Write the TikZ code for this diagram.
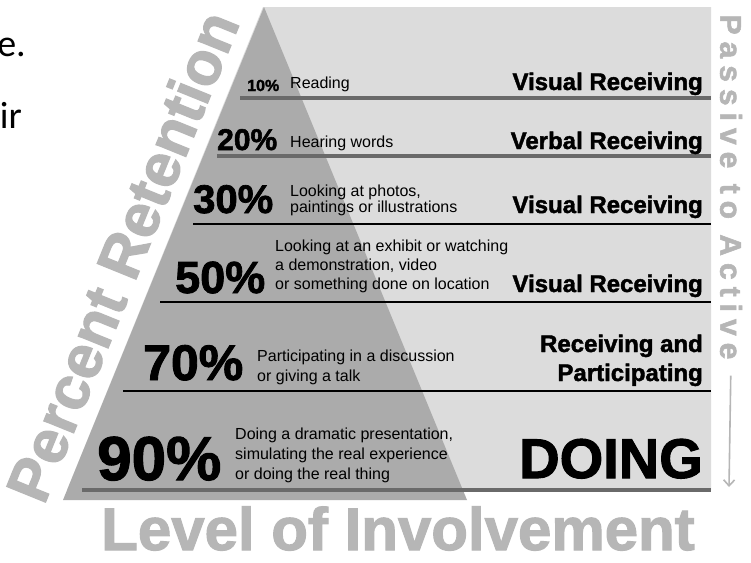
\documentclass[tikz,border=0pt]{standalone}
\usepackage{fontspec}
\setmainfont{Liberation Sans}
\newfontfamily\heavy{Liberation Sans}[BoldFeatures={FakeBold=1.8}]
\newfontfamily\slidefont{Carlito}
\usetikzlibrary{arrows.meta}
\newcommand\setfs[2]{\fontsize{#1}{#2}\selectfont}
\newcommand\tr{\kern7pt}
\definecolor{paper}{HTML}{DCDCDC}
\definecolor{pyr}{HTML}{ABABAB}
\definecolor{ghost}{HTML}{B6B6B6}
\definecolor{rulegrey}{HTML}{6A6A6A}
\begin{document}
\begin{tikzpicture}[x=1pt,y=-1pt,
  num/.style={anchor=base west, inner sep=0pt},
  desc/.style={anchor=west, align=left, inner sep=0pt},
  kind/.style={anchor=base east, inner sep=0pt, font=\heavy\bfseries\setfs{24}{28}},
  ghosttext/.style={inner sep=0pt, text=ghost, font=\heavy\bfseries\setfs{60}{60}},
  greyrule/.style={draw=rulegrey, line width=3.5pt},
  blackrule/.style={draw=black, line width=1.8pt}]

\path[use as bounding box] (0,0) rectangle (751,562);
\fill[white] (0,0) rectangle (751,562);

% fragments of the slide text at the left edge
\node[anchor=base east, inner sep=0pt, font=\slidefont\setfs{38}{40}] (frag1) at (26,56) {e.};
\node[anchor=base east, inner sep=0pt, font=\slidefont\setfs{38}{40}] (frag2) at (22,128) {ir};

% light field and the darker pyramid
\fill[paper] (263,7) -- (711,7) -- (711,490) -- (67,490) -- cycle;
\fill[pyr] (264,7) -- (467,500) -- (63,500) -- cycle;

% row rules
\draw[greyrule]  (240,98)  -- (711,98);
\draw[greyrule]  (217,156) -- (711,156);
\draw[blackrule] (193,224) -- (711,224);
\draw[blackrule] (160,302) -- (711,302);
\draw[blackrule] (123,391) -- (711,391);
\draw[greyrule]  (82,490)  -- (711,490);

% percentages
\node[num, font=\heavy\bfseries\setfs{16}{16}] (p10) at (247,91)  {10\%};
\node[num, font=\heavy\bfseries\setfs{30}{30}] (p20) at (217,150) {20\%};
\node[num, font=\heavy\bfseries\setfs{40}{40}] (p30) at (193,213) {30\%};
\node[num, font=\heavy\bfseries\setfs{45}{45}] (p50) at (175,293) {50\%};
\node[num, font=\heavy\bfseries\setfs{50}{50}] (p70) at (143,380) {70\%};
\node[num, font=\heavy\bfseries\setfs{62}{62}] (p90) at (97,480)  {90\%};

% activities
\node[desc, font=\setfs{16}{16}] (d10) at (290,84)  {Reading};
\node[desc, font=\setfs{16}{16}] (d20) at (290,143) {Hearing words};
\node[desc, font=\setfs{16}{16}] (d30) at (290,200) {Looking at photos,\\paintings or illustrations};
\node[desc, font=\setfs{16}{19}] (d50) at (275,266) {Looking at an exhibit or watching\\a demonstration, video\\or something done on location};
\node[desc, font=\setfs{16}{20}] (d70) at (257,367) {Participating in a discussion\\or giving a talk};
\node[desc, font=\setfs{16}{20}] (d90) at (235,455) {Doing a dramatic presentation,\\simulating the real experience\\or doing the real thing};

% kinds of involvement
\node[kind] (k10) at (703,90)  {Visual Receiving};
\node[kind] (k20) at (703,149) {Verbal Receiving};
\node[kind] (k30) at (703,213) {Visual Receiving};
\node[kind] (k50) at (703,292) {Visual Receiving};
\node[kind] (k70a) at (703,352) {Receiving and};
\node[kind] (k70b) at (703,381) {Participating};
\node[anchor=base east, inner sep=0pt, font=\heavy\bfseries\setfs{56}{56}] (k90) at (703,478) {DOING};

% axis titles
\node[ghosttext, rotate=67.9, font=\heavy\bfseries\setfs{61}{61}] (retention) at (122,256) {Percent Retention};
\node[ghosttext, anchor=base] (level) at (398,550) {Level of Involvement};
\node[inner sep=0pt, rotate=-90, text=ghost, font=\heavy\bfseries\setfs{30}{30}] (passive) at (731,187)
  {P\tr a\tr s\tr s\tr i\tr v\tr e\tr\ t\tr o\tr\ A\tr c\tr t\tr i\tr v\tr e};
\coordinate (arrbot) at (729,487);
\draw[ghost, line width=1.6pt, shorten <=16pt, -{Straight Barb[length=6pt,width=11pt]}] (passive.east) -- (arrbot);
\end{tikzpicture}
\end{document}
